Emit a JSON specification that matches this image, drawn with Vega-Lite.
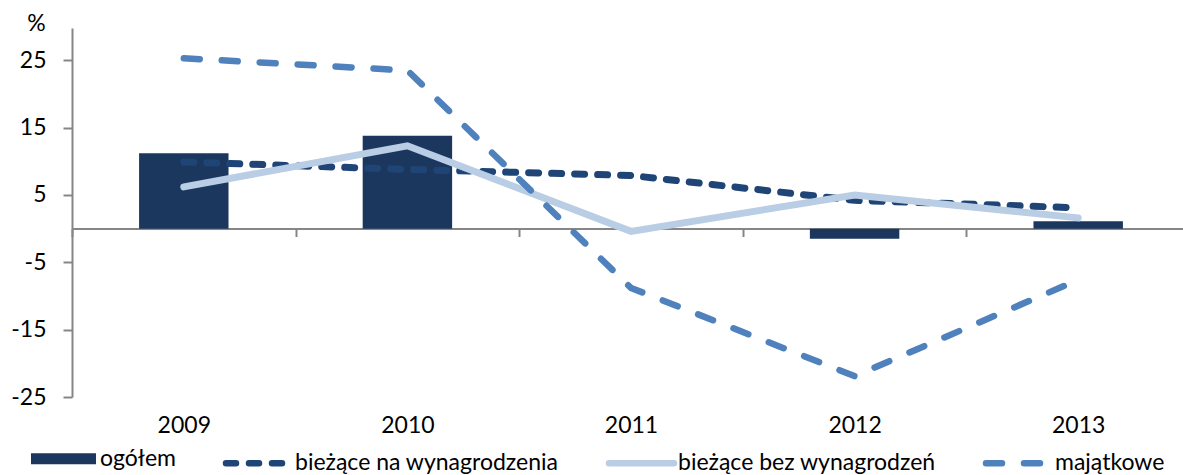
{
  "$schema": "https://vega.github.io/schema/vega-lite/v6.json",
  "autosize": "none",
  "width": 1111,
  "height": 369,
  "padding": {"left": 72, "top": 28, "right": 0, "bottom": 78},
  "background": "white",
  "config": {
    "view": {"stroke": null},
    "font": "Lato",
    "axis": {"labelFont": "Lato", "titleFont": "Lato", "labelColor": "#000000", "titleColor": "#000000"}
  },
  "data": {
    "values": [
      {"year": "2009", "series": "ogółem", "value": 11.2},
      {"year": "2010", "series": "ogółem", "value": 13.8},
      {"year": "2011", "series": "ogółem", "value": 0.0},
      {"year": "2012", "series": "ogółem", "value": -1.5},
      {"year": "2013", "series": "ogółem", "value": 1.1},
      {"year": "2009", "series": "bieżące na wynagrodzenia", "value": 9.9},
      {"year": "2010", "series": "bieżące na wynagrodzenia", "value": 8.8},
      {"year": "2011", "series": "bieżące na wynagrodzenia", "value": 7.9},
      {"year": "2012", "series": "bieżące na wynagrodzenia", "value": 4.2},
      {"year": "2013", "series": "bieżące na wynagrodzenia", "value": 3.1},
      {"year": "2009", "series": "bieżące bez wynagrodzeń", "value": 6.2},
      {"year": "2010", "series": "bieżące bez wynagrodzeń", "value": 12.3},
      {"year": "2011", "series": "bieżące bez wynagrodzeń", "value": -0.4},
      {"year": "2012", "series": "bieżące bez wynagrodzeń", "value": 5.0},
      {"year": "2013", "series": "bieżące bez wynagrodzeń", "value": 1.6},
      {"year": "2009", "series": "majątkowe", "value": 25.3},
      {"year": "2010", "series": "majątkowe", "value": 23.5},
      {"year": "2011", "series": "majątkowe", "value": -8.8},
      {"year": "2012", "series": "majątkowe", "value": -21.9},
      {"year": "2013", "series": "majątkowe", "value": -7.6}
    ]
  },
  "encoding": {
    "x": {
      "field": "year", "type": "ordinal",
      "scale": {"paddingInner": 0, "paddingOuter": 0, "range": [0, 1118]},
      "axis": {
        "title": null, "orient": "bottom", "offset": -168.5,
        "labelAngle": 0, "labelFontSize": 23, "labelPadding": 178,
        "domainColor": "#868686", "domainWidth": 2,
        "tickColor": "#868686", "tickWidth": 2, "tickSize": 8,
        "tickBand": "extent", "grid": false
      }
    },
    "y": {
      "field": "value", "type": "quantitative",
      "scale": {"domain": [-25, 29.8], "nice": false, "zero": false},
      "axis": {
        "values": [-25, -15, -5, 5, 15, 25],
        "labelExpr": "'' + datum.value",
        "grid": false,
        "labelFontSize": 23, "labelPadding": 17,
        "domainColor": "#868686", "domainWidth": 2,
        "tickColor": "#868686", "tickWidth": 2, "tickSize": 9,
        "title": "%", "titleAngle": 0, "titleFontSize": 23, "titleFontWeight": "normal",
        "titleX": -36, "titleY": -5, "titleBaseline": "middle", "titleAlign": "center"
      }
    },
    "color": {
      "field": "series", "type": "nominal",
      "scale": {
        "domain": ["ogółem", "bieżące na wynagrodzenia", "bieżące bez wynagrodzeń", "majątkowe"],
        "range": ["#1B375E", "#1F4576", "#B9CDE5", "#4F81BD"]
      },
      "legend": {
        "title": null, "orient": "none", "direction": "horizontal",
        "legendX": -20, "legendY": 419,
        "labelFontSize": 23, "labelFont": "Lato", "labelColor": "#000000", "labelLimit": 0,
        "symbolType": "stroke", "symbolSize": 4225, "labelOffset": 25, "columnPadding": 37,
        "encode": {
          "symbols": {
            "update": {
              "strokeWidth": {"signal": "datum.value === 'ogółem' ? 11 : 6.5"},
              "strokeDash": {"signal": "datum.value === 'bieżące na wynagrodzenia' ? [10,13] : datum.value === 'majątkowe' ? [16,22] : [1,0]"},
              "strokeCap": {"signal": "datum.value === 'ogółem' ? 'butt' : 'round'"},
              "stroke": {"signal": "datum.value === 'ogółem' ? '#1B375E' : datum.value === 'bieżące na wynagrodzenia' ? '#1F4576' : datum.value === 'majątkowe' ? '#4F81BD' : '#B9CDE5'"},
              "fill": {"value": "transparent"},
              "opacity": {"value": 1}
            }
          }
        }
      }
    }
  },
  "layer": [
    {
      "transform": [{"filter": "datum.series === 'ogółem'"}],
      "mark": {"type": "bar", "width": {"band": 0.4}},
      "encoding": {"y": {"field": "value", "type": "quantitative"}, "y2": {"datum": 0}}
    },
    {
      "transform": [{"filter": "datum.series === 'bieżące na wynagrodzenia'"}],
      "mark": {"type": "line", "strokeWidth": 7, "strokeDash": [10, 13], "strokeCap": "round"}
    },
    {
      "transform": [{"filter": "datum.series === 'bieżące bez wynagrodzeń'"}],
      "mark": {"type": "line", "strokeWidth": 7, "strokeCap": "round"}
    },
    {
      "transform": [{"filter": "datum.series === 'majątkowe'"}],
      "mark": {"type": "line", "strokeWidth": 6.5, "strokeDash": [16, 22], "strokeCap": "round"}
    }
  ]
}
